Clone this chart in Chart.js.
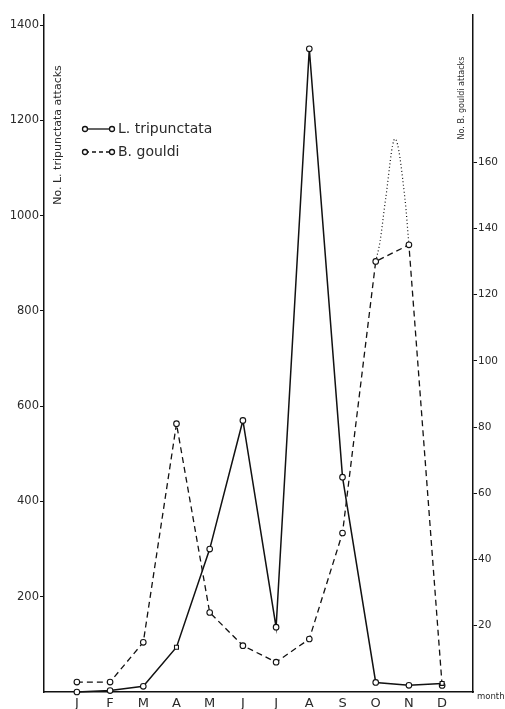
<!DOCTYPE html>
<html>
<head>
<meta charset="utf-8">
<script src="https://cdn.jsdelivr.net/npm/chart.js@4/dist/chart.umd.min.js"></script>
<style>
    html, body { margin: 0; padding: 0; background: #fff; }
    canvas { display: block; }
</style>
</head>
<body>
<canvas id="attacks" width="505" height="709"></canvas>
<script>
    // values, by month
    const months = ["J", "F", "M", "A", "M", "J", "J", "A", "S", "O", "N", "D"];
    const tripunctata = [0, 3, 12, 94, 300, 570, 136, 1350, 451, 20, 14, 18];
    const gouldi = [3, 3, 15, 81, 24, 14, 9, 16, 48, 130, 135, 2];
    // the dotted hand-drawn curve between Oct and Nov (B. gouldi scale)
    const gouldiCurveX = [9, 9.13, 9.3, 9.58, 9.88, 10];
    const gouldiCurveY = [130, 136, 149, 167, 149, 135];

    const leftTicks = [200, 400, 600, 800, 1000, 1200, 1400];
    const rightTicks = [20, 40, 60, 80, 100, 120, 140, 160];

    const ink = "#111";
    const textInk = "#2a2a2a";

    const tripunctataStyles = tripunctata.map((_, i) => (i === 3 || i === 11 ? "rect" : "circle"));

    const extras = {
        id: "extras",
        afterDraw(chart) {
            const { ctx } = chart;
            ctx.save();
            ctx.fillStyle = textInk;
            ctx.strokeStyle = ink;

            // axis titles sit inside the plot
            ctx.font = "11px 'DejaVu Sans'";
            ctx.textAlign = "center";
            ctx.textBaseline = "middle";
            ctx.save();
            ctx.translate(58, 135);
            ctx.rotate(-Math.PI / 2);
            ctx.fillText("No. L. tripunctata attacks", 0, 0);
            ctx.restore();

            ctx.font = "8px 'DejaVu Sans'";
            ctx.save();
            ctx.translate(462, 98);
            ctx.rotate(-Math.PI / 2);
            ctx.fillText("No. B. gouldi attacks", 0, 0);
            ctx.restore();

            // legend
            const rows = [
                { y: 129, dash: [], label: "L. tripunctata" },
                { y: 152, dash: [4, 3], label: "B. gouldi" }
            ];
            ctx.lineWidth = 1.3;
            rows.forEach((row) => {
                ctx.setLineDash(row.dash);
                ctx.beginPath();
                ctx.moveTo(85, row.y);
                ctx.lineTo(112, row.y);
                ctx.stroke();
                ctx.setLineDash([]);
                [85, 112].forEach((x) => {
                    ctx.beginPath();
                    ctx.arc(x, row.y, 2.5, 0, Math.PI * 2);
                    ctx.fillStyle = "#fff";
                    ctx.fill();
                    ctx.stroke();
                });
                ctx.fillStyle = textInk;
                ctx.font = "14px 'DejaVu Sans'";
                ctx.textAlign = "left";
                ctx.fillText(row.label, 118, row.y);
            });

            ctx.font = "8.5px 'DejaVu Sans'";
            ctx.textAlign = "left";
            ctx.fillText("month", 477, 697);
            ctx.restore();
        }
    };

    new Chart(document.getElementById("attacks"), {
        type: "line",
        data: {
            datasets: [
                {
                    label: "L. tripunctata",
                    data: tripunctata.map((v, i) => ({ x: i, y: v })),
                    yAxisID: "y",
                    borderColor: ink,
                    borderWidth: 1.5,
                    pointStyle: tripunctataStyles,
                    pointRadius: 2.8,
                    pointBorderWidth: 1.1,
                    pointBackgroundColor: "#fff",
                    pointBorderColor: ink,
                    tension: 0
                },
                {
                    label: "B. gouldi",
                    data: gouldi.map((v, i) => ({ x: i, y: v })),
                    yAxisID: "y2",
                    borderColor: ink,
                    borderWidth: 1.3,
                    borderDash: [6, 4],
                    pointRadius: 2.8,
                    pointBorderWidth: 1.1,
                    pointBackgroundColor: "#fff",
                    pointBorderColor: ink,
                    tension: 0
                },
                {
                    label: "B. gouldi curve",
                    data: gouldiCurveX.map((x, i) => ({ x, y: gouldiCurveY[i] })),
                    yAxisID: "y2",
                    borderColor: ink,
                    borderWidth: 1.2,
                    borderDash: [1, 2.5],
                    pointRadius: 0,
                    cubicInterpolationMode: "monotone"
                }
            ]
        },
        options: {
            responsive: false,
            animation: false,
            devicePixelRatio: 1,
            clip: false,
            layout: { padding: { top: 15, left: 0, right: 0, bottom: 0 } },
            plugins: { legend: { display: false }, tooltip: { enabled: false } },
            scales: {
                x: {
                    type: "linear",
                    min: -0.99,
                    max: 11.93,
                    grid: { display: false },
                    border: { display: true, color: ink, width: 1.5 },
                    afterBuildTicks: (scale) => { scale.ticks = months.map((_, i) => ({ value: i })); },
                    afterFit: (scale) => { scale.height = 17; },
                    ticks: {
                        autoSkip: false,
                        maxRotation: 0,
                        padding: -4,
                        color: textInk,
                        font: { family: "DejaVu Sans", size: 13 },
                        callback: (v) => months[Math.round(v)]
                    }
                },
                y: {
                    position: "left",
                    min: 0,
                    max: 1421,
                    grid: { drawOnChartArea: false, drawTicks: true, tickLength: 4, color: ink },
                    border: { display: true, color: ink, width: 1.5 },
                    afterBuildTicks: (scale) => { scale.ticks = leftTicks.map((v) => ({ value: v })); },
                    afterFit: (scale) => { scale.width = 44; },
                    ticks: {
                        padding: 1,
                        color: textInk,
                        font: { family: "DejaVu Sans", size: 11.5 },
                        callback: (v) => String(v)
                    }
                },
                y2: {
                    position: "right",
                    min: 0,
                    max: 204.4,
                    grid: { drawOnChartArea: false, drawTicks: true, tickLength: 4, color: ink },
                    border: { display: true, color: ink, width: 1.5 },
                    afterBuildTicks: (scale) => { scale.ticks = rightTicks.map((v) => ({ value: v })); },
                    afterFit: (scale) => { scale.width = 32; },
                    ticks: {
                        padding: 1,
                        color: textInk,
                        font: { family: "DejaVu Sans", size: 10.5 },
                        callback: (v) => String(v)
                    }
                }
            }
        },
        plugins: [extras]
    });
</script>
</body>
</html>
